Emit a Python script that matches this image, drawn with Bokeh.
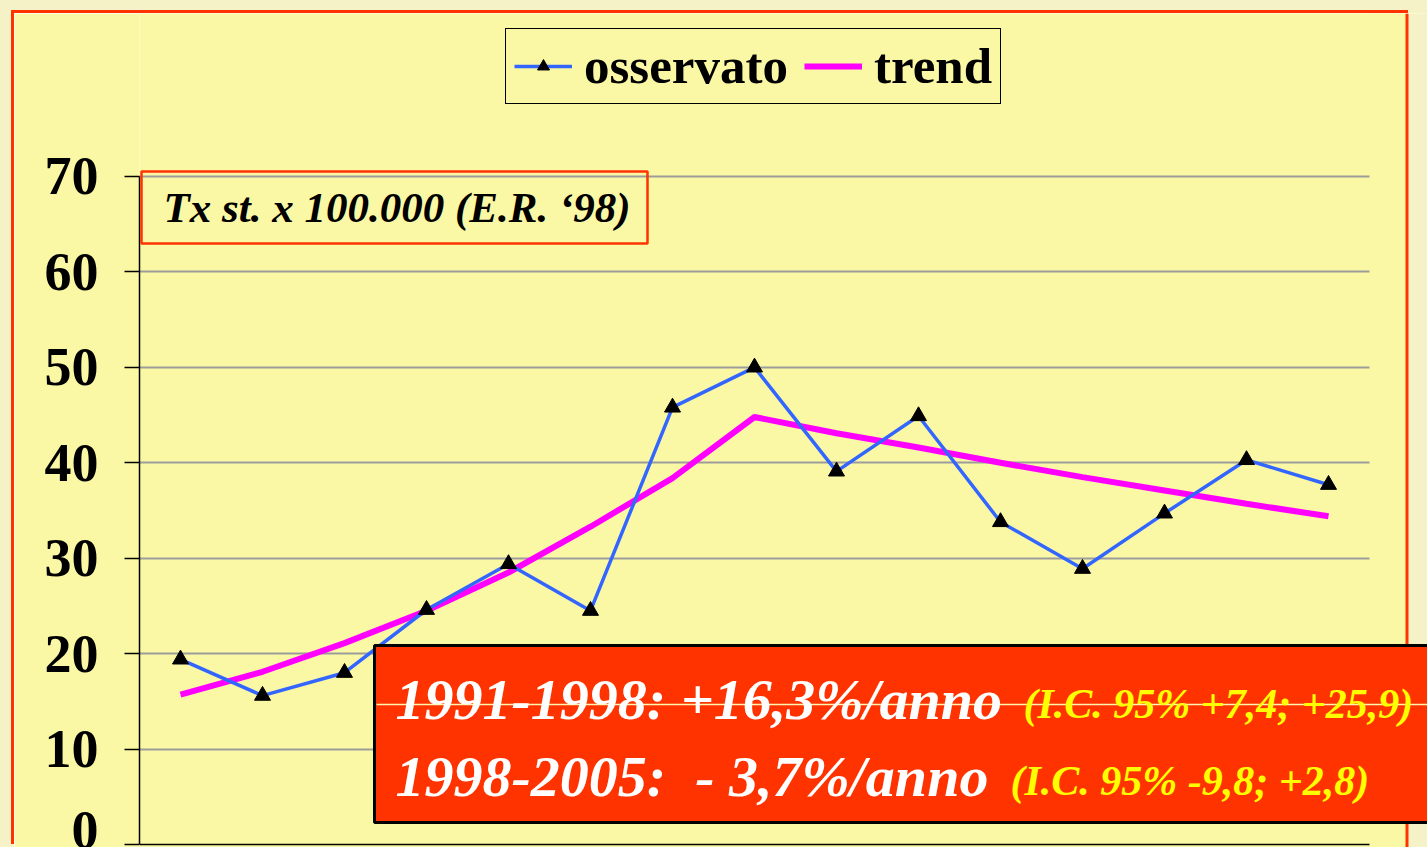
from bokeh.plotting import figure
from bokeh.models import Range1d, FixedTicker, Legend, LegendItem, Label, BoxAnnotation
from bokeh.embed import file_html
from bokeh.resources import INLINE

# ---------------- data ----------------
years = list(range(1991, 2006))
osservato = [19.4, 15.6, 18.0, 24.6, 29.4, 24.5, 45.8, 50.0, 39.1, 44.9, 33.8, 28.9, 34.7, 40.3, 37.7]
trend = [15.7, 18.1, 21.1, 24.5, 28.5, 33.3, 38.4, 44.8, 43.1, 41.6, 40.0, 38.5, 37.1, 35.7, 34.4]
y_ticks = [0, 10, 20, 30, 40, 50, 60, 70]
series_names = ["osservato", "trend"]
box_title = "Tx st. x 100.000 (E.R. \u201898)"
trend_lines = ["1991-1998: +16,3%/anno", "1998-2005:\u00a0 - 3,7%/anno"]
ci_lines = ["(I.C. 95% +7,4; +25,9)", "(I.C. 95% -9,8; +2,8)"]

# ---------------- style ----------------
CREAM = "#F6F2C8"
YELLOW = "#FBF8A5"
ORANGE = "#FF3300"
BLUE = "#3366FF"
MAGENTA = "#FF00FF"
SERIF = "Liberation Serif"

# canvas is shifted by (OX, OY) on the page (see styles below)
OX, OY = 14, 13
W, H = 1427 - OX, 847 - OY
AXIS_PX = 139            # page x of the y axis
BOTTOM_PX = 844          # page y of value 0
PX_PER_UNIT = 9.543
PX_PER_YEAR = 82.0

def fx(px):
    """page x pixel -> data x"""
    return 1990.5 + (px - AXIS_PX) / PX_PER_YEAR

def fy(py):
    """page y pixel -> data y"""
    return (BOTTOM_PX - py) / PX_PER_UNIT

p = figure(width=W, height=H,
           x_range=Range1d(fx(AXIS_PX), fx(OX + W)),
           y_range=Range1d(fy(OY + H), fy(OY)),
           output_backend="svg", toolbar_location=None, x_axis_location=None,
           min_border_left=AXIS_PX - OX, min_border_right=0, min_border_top=0, min_border_bottom=0)
p.border_fill_color = YELLOW
p.background_fill_color = YELLOW
p.outline_line_color = None
p.styles = {
    "position": "relative", "left": f"{OX}px", "top": f"{OY}px",
    "box-shadow": f"1394px -3px 0 0 {CREAM}, -3px -3px 0 0 {ORANGE}, -20px -20px 0 20px {CREAM}",
}

# axes / grid
p.yaxis.ticker = FixedTicker(ticks=y_ticks)
p.yaxis.bounds = (y_ticks[0], y_ticks[-1])
p.yaxis.axis_line_color = "black"
p.yaxis.axis_line_width = 1.5
p.yaxis.major_tick_line_color = "black"
p.yaxis.major_tick_line_width = 1.5
p.yaxis.major_tick_out = 15
p.yaxis.major_tick_in = 0
p.yaxis.minor_tick_line_color = None
p.yaxis.major_label_text_font = SERIF
p.yaxis.major_label_text_font_style = "bold"
p.yaxis.major_label_text_font_size = "54px"
p.yaxis.major_label_text_color = "black"
p.yaxis.major_label_standoff = 26
p.ygrid.ticker = FixedTicker(ticks=y_ticks[1:])
p.ygrid.grid_line_color = "#9C9C9C"
p.ygrid.grid_line_width = 2
p.xgrid.grid_line_color = None

# baseline (x axis line, mostly cut off at the bottom edge)
p.add_layout(BoxAnnotation(left=fx(139), right=fx(1369), top=0.08, bottom=-0.08,
                           fill_color="black", fill_alpha=1, line_color=None))

# right margin of the slide panel: hide the grid beyond the plot, orange border, cream outside
p.add_layout(BoxAnnotation(left=fx(1369), right=fx(1407), fill_color=YELLOW, fill_alpha=1,
                           line_color=None, level="guide"))
p.add_layout(BoxAnnotation(left=fx(1407), right=fx(1500), fill_color=CREAM, fill_alpha=1,
                           line_color=None, level="guide"))
p.add_layout(BoxAnnotation(left=fx(1405), right=fx(1408), fill_color=ORANGE, fill_alpha=1,
                           line_color=None, level="guide"))

# series
r_trend = p.line(years, trend, line_color=MAGENTA, line_width=6)
r_obs = p.line(years, osservato, line_color=BLUE, line_width=3.5)
r_pts = p.scatter(years, osservato, marker="triangle", size=16, fill_color="black", line_color="black")

# legend
legend = Legend(items=[LegendItem(label=series_names[0], renderers=[r_obs, r_pts]),
                       LegendItem(label=series_names[1], renderers=[r_trend])],
                orientation="horizontal", location=(505 - AXIS_PX, OY + H - 104))
legend.label_text_font = SERIF
legend.label_text_font_style = "bold"
legend.label_text_font_size = "51px"
legend.label_text_color = "black"
legend.glyph_width = 58
legend.glyph_height = 30
legend.label_standoff = 12
legend.spacing = 16
legend.padding = 8
legend.margin = 0
legend.border_line_color = "black"
legend.border_line_width = 1.5
legend.border_line_alpha = 1
legend.background_fill_color = YELLOW
legend.background_fill_alpha = 1
p.add_layout(legend)

# small title box
p.add_layout(BoxAnnotation(left=fx(141), right=fx(647), top=fy(171), bottom=fy(243),
                           fill_alpha=0, line_color=ORANGE, line_alpha=1, line_width=2.5))
p.add_layout(Label(x=fx(163), y=fy(207), text=box_title, text_font=SERIF, text_font_style="bold italic",
                   text_font_size="43px", text_color="black", text_baseline="alphabetic"))

# red annotation box
p.add_layout(BoxAnnotation(left=fx(374), right=fx(1500), top=fy(645), bottom=fy(822),
                           fill_color=ORANGE, fill_alpha=1, line_color="black", line_alpha=1, line_width=3))
p.add_layout(BoxAnnotation(left=fx(376), right=fx(1500), top=fy(703.3), bottom=fy(704.7),
                           fill_color="#FFF4B0", fill_alpha=1, line_color=None))
for txt, ci, bl, cx in zip(trend_lines, ci_lines, [699, 776], [1023, 1010]):
    p.add_layout(Label(x=fx(395), y=fy(bl), text=txt, text_font=SERIF, text_font_style="bold italic",
                       text_font_size="58px", text_color="white", text_baseline="alphabetic"))
    p.add_layout(Label(x=fx(cx), y=fy(bl + 4), text=ci, text_font=SERIF, text_font_style="bold italic",
                       text_font_size="42px", text_color="#FFFF00", text_baseline="alphabetic"))

open("out.html", "w").write(file_html(p, INLINE))
